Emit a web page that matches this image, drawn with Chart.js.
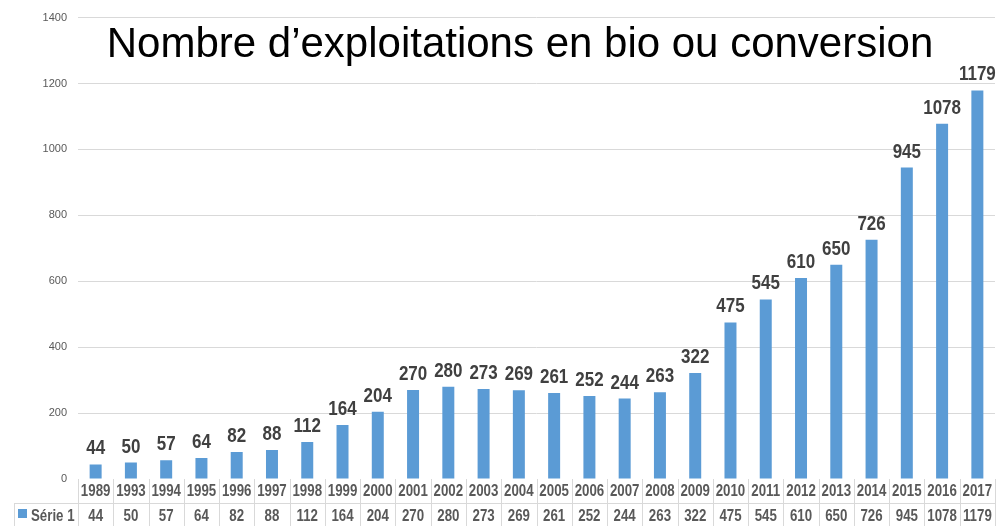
<!DOCTYPE html>
<html>
<head>
<meta charset="utf-8">
<script src="https://cdn.jsdelivr.net/npm/chart.js@4.4.1/dist/chart.umd.min.js"></script>
<style>
html,body{margin:0;padding:0;background:#fff;}
#wrap{position:relative;width:997px;height:526px;}
</style>
</head>
<body>
<div id="wrap"><canvas id="c" width="997" height="526"></canvas></div>
<script>
const categories = ['1989','1993','1994','1995','1996','1997','1998','1999','2000','2001','2002','2003','2004','2005','2006','2007','2008','2009','2010','2011','2012','2013','2014','2015','2016','2017'];
const serie1 = [44,50,57,64,82,88,112,164,204,270,280,273,269,261,252,244,263,322,475,545,610,650,726,945,1078,1179];
const seriesName = 'Série 1';
const titleText = 'Nombre d’exploitations en bio ou conversion';
const yTicks = [0,200,400,600,800,1000,1200,1400];

const SANS = '"Liberation Sans", Arial, sans-serif';
const BLUE = '#5B9BD5';
const GRID = '#d9d9d9';
const TXT = '#595959';

// draw horizontally condensed text
function narrowText(ctx, text, x, y, size, bold, align, sx) {
  ctx.save();
  ctx.font = (bold ? 'bold ' : '') + size + 'px ' + SANS;
  ctx.textAlign = align;
  ctx.translate(x, y);
  ctx.scale(sx, 1);
  ctx.fillText(text, 0, 0);
  ctx.restore();
}

const overlay = {
  id: 'overlay',
  afterDraw(chart) {
    const ctx = chart.ctx;
    const ca = chart.chartArea;
    const xs = chart.scales.x;
    const meta = chart.getDatasetMeta(0);
    const n = categories.length;
    const step = (ca.right - ca.left) / n;
    ctx.save();
    // table lines
    ctx.strokeStyle = GRID;
    ctx.lineWidth = 1;
    ctx.beginPath();
    for (let i = 0; i <= n; i++) {
      const x = Math.round(ca.left + i * step) + 0.5;
      ctx.moveTo(x, ca.bottom);
      ctx.lineTo(x, 526);
    }
    ctx.moveTo(14, 503.5); ctx.lineTo(Math.round(ca.right) + 0.5, 503.5);
    ctx.moveTo(14.5, 503); ctx.lineTo(14.5, 526);
    ctx.stroke();
    // legend key + name
    ctx.fillStyle = BLUE;
    ctx.fillRect(18, 509, 9, 9);
    ctx.fillStyle = TXT;
    ctx.textBaseline = 'middle';
    narrowText(ctx, seriesName, 31, 517, 16, true, 'left', 0.83);
    // year labels and table values
    categories.forEach((c, i) => {
      narrowText(ctx, c, xs.getPixelForValue(i), 492, 16, true, 'center', 0.83);
    });
    serie1.forEach((v, i) => {
      narrowText(ctx, String(v), xs.getPixelForValue(i), 517, 16, true, 'center', 0.83);
    });
    // data labels
    ctx.fillStyle = '#404040';
    ctx.textBaseline = 'alphabetic';
    meta.data.forEach((bar, i) => {
      narrowText(ctx, String(serie1[i]), bar.x, bar.y - 10, 20, true, 'center', 0.85);
    });
    // title
    ctx.fillStyle = '#000';
    ctx.font = '42px ' + SANS;
    ctx.textAlign = 'center';
    ctx.textBaseline = 'alphabetic';
    ctx.fillText(titleText, 520, 57);
    ctx.restore();
  }
};

new Chart(document.getElementById('c'), {
  type: 'bar',
  data: {
    labels: categories,
    datasets: [{
      label: seriesName,
      data: serie1,
      backgroundColor: BLUE,
      borderWidth: 0,
      barPercentage: 0.34,
      categoryPercentage: 1.0
    }]
  },
  options: {
    responsive: false,
    animation: false,
    devicePixelRatio: 1,
    layout: { padding: { top: 17, right: 2, left: 0, bottom: 0 } },
    plugins: { legend: { display: false }, tooltip: { enabled: false }, title: { display: false } },
    scales: {
      x: {
        grid: { display: false },
        border: { display: false },
        ticks: { display: false },
        afterFit(s) { s.height = 47; }
      },
      y: {
        min: 0, max: 1400,
        afterBuildTicks(s) { s.ticks = yTicks.map(v => ({ value: v })); },
        grid: {
          color: ctx => (ctx.tick && ctx.tick.value === 0) ? 'rgba(0,0,0,0)' : GRID,
          drawTicks: false
        },
        border: { display: false },
        ticks: {
          color: TXT,
          font: { family: '"Liberation Sans", Arial, sans-serif', size: 11 },
          padding: 11,
          callback: v => String(v)
        },
        afterFit(s) { s.width = 78; }
      }
    }
  },
  plugins: [overlay]
});
</script>
</body>
</html>
